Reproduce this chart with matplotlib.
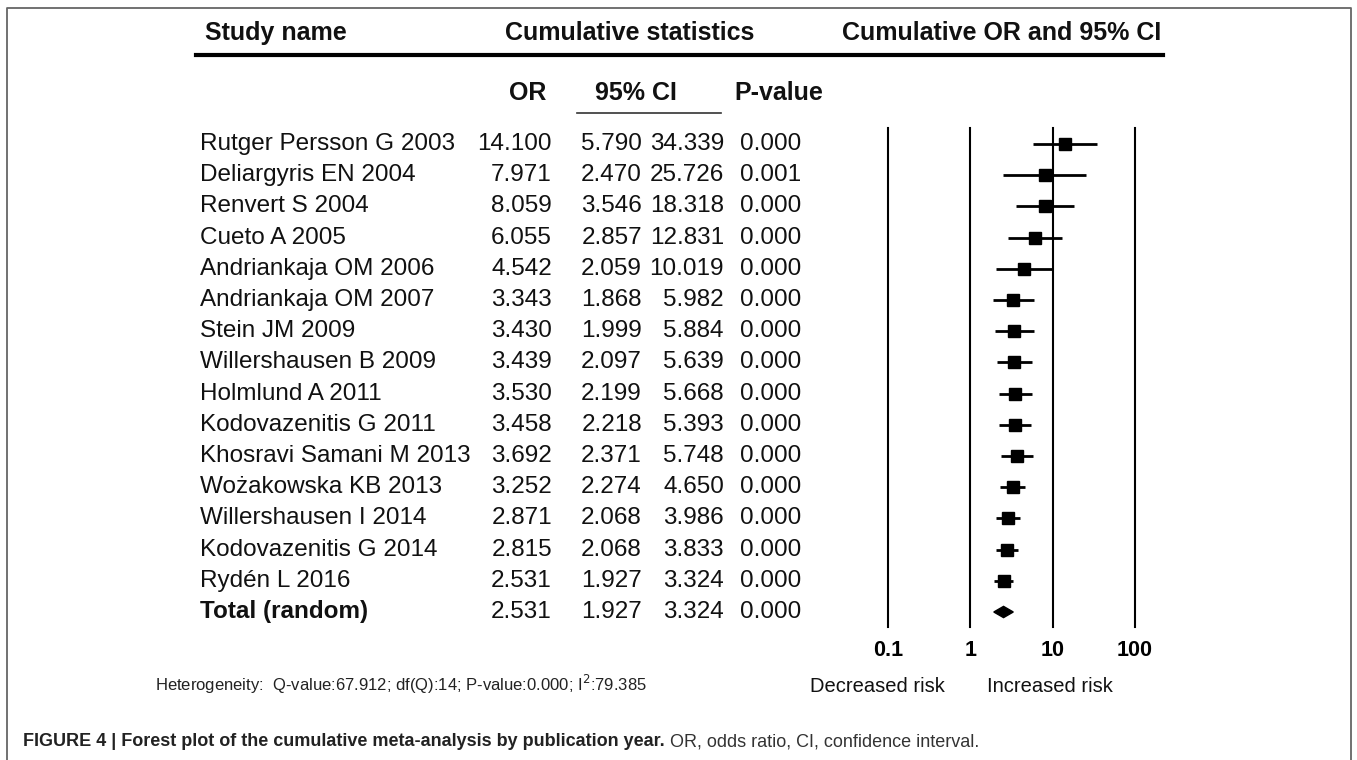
import matplotlib
matplotlib.use("Agg")
import matplotlib.pyplot as plt
from matplotlib.lines import Line2D

W, H = 1357, 760
DPI = 100

names = ["Rutger Persson G 2003", "Deliargyris EN 2004", "Renvert S 2004", "Cueto A 2005",
         "Andriankaja OM 2006", "Andriankaja OM 2007", "Stein JM 2009", "Willershausen B 2009",
         "Holmlund A 2011", "Kodovazenitis G 2011", "Khosravi Samani M 2013", "Wożakowska KB 2013",
         "Willershausen I 2014", "Kodovazenitis G 2014", "Rydén L 2016", "Total (random)"]
odds = [14.100, 7.971, 8.059, 6.055, 4.542, 3.343, 3.430, 3.439, 3.530, 3.458, 3.692, 3.252,
        2.871, 2.815, 2.531, 2.531]
lower = [5.790, 2.470, 3.546, 2.857, 2.059, 1.868, 1.999, 2.097, 2.199, 2.218, 2.371, 2.274,
         2.068, 2.068, 1.927, 1.927]
upper = [34.339, 25.726, 18.318, 12.831, 10.019, 5.982, 5.884, 5.639, 5.668, 5.393, 5.748, 4.650,
         3.986, 3.833, 3.324, 3.324]
pvals = [0.000, 0.001, 0.000, 0.000, 0.000, 0.000, 0.000, 0.000, 0.000, 0.000, 0.000, 0.000,
         0.000, 0.000, 0.000, 0.000]
xticks = [0.1, 1, 10, 100]
xtick_labels = ["0.1", "1", "10", "100"]

SANS = ["Liberation Sans", "DejaVu Sans"]
plt.rcParams["font.family"] = SANS

fig = plt.figure(figsize=(W / DPI, H / DPI), dpi=DPI)
fig.patch.set_facecolor("white")


def fx(x):
    return x / W


def fy(y):
    return 1 - y / H


def txt(x, y, s, **kw):
    kw.setdefault("va", "center")
    return fig.text(fx(x), fy(y), s, **kw)


# border
fig.add_artist(Line2D([fx(7), fx(7), fx(1351), fx(1351)], [fy(775), fy(8), fy(8), fy(775)],
                      color="#666666", lw=1.3))

# headers
hdr = dict(fontsize=18, fontweight="bold", color="#111111")
txt(205, 33, "Study name", ha="left", **hdr)
txt(630, 33, "Cumulative statistics", ha="center", **hdr)
txt(1002, 33, "Cumulative OR and 95% CI", ha="center", **hdr)
fig.add_artist(Line2D([fx(196), fx(1163)], [fy(55), fy(55)], color="black", lw=3.0))

txt(528, 93, "OR", ha="center", **hdr)
txt(636, 93, "95% CI", ha="center", **hdr)
txt(779, 93, "P-value", ha="center", **hdr)
fig.add_artist(Line2D([fx(577), fx(721)], [fy(113), fy(113)], color="#333333", lw=1.2))

# rows
y0, dy = 144, (612 - 144) / 15
row = dict(fontsize=17.5, color="#111111", va="baseline")
for i, (n, o, lo, hi, p) in enumerate(zip(names, odds, lower, upper, pvals)):
    y = y0 + i * dy + 6
    bold = "bold" if i == len(names) - 1 else "normal"
    txt(200, y, n, ha="left", fontweight=bold, **row)
    txt(552, y, f"{o:.3f}", ha="right", **row)
    txt(642, y, f"{lo:.3f}", ha="right", **row)
    txt(724, y, f"{hi:.3f}", ha="right", **row)
    txt(801, y, f"{p:.3f}", ha="right", **row)

# forest axes
ax_top, ax_bot = 128, 627
x_left, x_right = 888, 1135
ax = fig.add_axes([fx(x_left), fy(ax_bot), (x_right - x_left) / W, (ax_bot - ax_top) / H])
ax.set_xscale("log")
ax.set_xlim(0.1, 100)
ylo = -(y0 - ax_top) / dy
yhi = (ax_bot - y0) / dy
ax.set_ylim(yhi, ylo)
for s in ax.spines.values():
    s.set_visible(False)
ax.set_yticks([])
ax.set_xticks(xticks)
ax.set_xticklabels(xtick_labels, fontsize=15.5, fontweight="bold")
ax.minorticks_off()
ax.tick_params(axis="x", length=0, pad=9)
ax.patch.set_alpha(0)
for xv in xticks:
    ax.axvline(xv, color="black", lw=1.5, zorder=1)

n_st = len(names) - 1
for i in range(n_st):
    ax.plot([lower[i], upper[i]], [i, i], color="black", lw=2.0, solid_capstyle="butt", zorder=3)
    ax.plot([odds[i]], [i], marker="s", ms=9 if i < 12 else 8, color="black", zorder=4)
t = n_st
ax.fill([lower[t], odds[t], upper[t], odds[t]], [t, t - 0.18, t, t + 0.18], color="black",
        zorder=4, clip_on=False)
for art in ax.lines:
    art.set_clip_on(False)

txt(877, 687, "Decreased risk", ha="center", fontsize=14.5, color="#111111")
txt(1050, 687, "Increased risk", ha="center", fontsize=14.5, color="#111111")

txt(155, 684, "Heterogeneity:  Q-value:67.912; df(Q):14; P-value:0.000; I$^{2}$:79.385",
    ha="left", fontsize=12, color="#222222")

# caption
cap_y = 742
t1 = txt(23, cap_y, "FIGURE 4 | Forest plot of the cumulative meta-analysis by publication year.",
         fontsize=13, fontweight="bold", color="#222222", ha="left")
fig.canvas.draw()
bb = t1.get_window_extent()
fig.text(bb.x1 / W + fx(5), fy(cap_y), "OR, odds ratio, CI, confidence interval.",
         fontsize=13, color="#333333", va="center", ha="left")

fig.savefig("out.png", dpi=DPI, facecolor="white")
